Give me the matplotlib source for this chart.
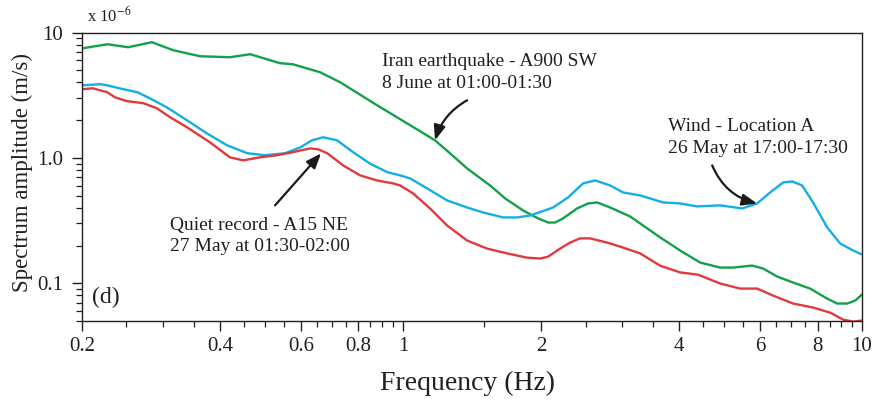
import matplotlib
matplotlib.use("Agg")
import matplotlib.pyplot as plt
from matplotlib.ticker import FixedLocator, FixedFormatter, LogLocator, NullFormatter
import numpy as np

# ---- data (frequency in Hz, amplitude in 1e-6 m/s) ----
iran_f = [0.201, 0.227, 0.252, 0.284, 0.316, 0.361, 0.420, 0.465, 0.540, 0.576, 0.660, 0.730,
          0.878, 1.021, 1.175, 1.267, 1.380, 1.548, 1.670, 1.827, 1.970, 2.072, 2.145, 2.233,
          2.395, 2.532, 2.649, 2.827, 3.126, 3.634, 4.017, 4.440, 4.909, 5.240, 5.764, 6.091,
          6.535, 7.079, 7.709, 8.395, 8.830, 9.283, 9.663, 10.0]
iran_a = [7.49, 8.06, 7.63, 8.37, 7.22, 6.47, 6.35, 6.71, 5.69, 5.58, 4.82, 4.01,
          2.63, 1.886, 1.38, 1.086, 0.824, 0.603, 0.475, 0.381, 0.329, 0.305, 0.305, 0.329,
          0.395, 0.433, 0.441, 0.402, 0.341, 0.232, 0.1825, 0.1463, 0.1334, 0.1334, 0.1384, 0.131,
          0.1131, 0.1013, 0.0907, 0.0755, 0.0689, 0.0689, 0.0728, 0.0812]

wind_f = [0.201, 0.219, 0.227, 0.246, 0.264, 0.284, 0.306, 0.339, 0.374, 0.414, 0.458, 0.501,
          0.554, 0.597, 0.634, 0.670, 0.719, 0.779, 0.848, 0.924, 0.986, 1.037, 1.129, 1.248,
          1.380, 1.495, 1.653, 1.773, 1.893, 2.124, 2.290, 2.469, 2.622, 2.827, 3.017, 3.287,
          3.689, 4.017, 4.374, 4.909, 5.483, 5.910, 6.309, 6.734, 7.044, 7.406, 7.825, 8.397,
          8.963, 9.567, 10.0]
wind_a = [3.79, 3.87, 3.79, 3.53, 3.34, 2.93, 2.53, 1.99, 1.57, 1.26, 1.09, 1.05,
          1.09, 1.21, 1.38, 1.46, 1.38, 1.11, 0.90, 0.77, 0.725, 0.686, 0.571, 0.458,
          0.402, 0.367, 0.335, 0.335, 0.347, 0.402, 0.484, 0.626, 0.661, 0.603, 0.530, 0.502,
          0.441, 0.433, 0.410, 0.418, 0.395, 0.433, 0.530, 0.637, 0.649, 0.603, 0.441, 0.279,
          0.2075, 0.1825, 0.1695]

quiet_f = [0.201, 0.211, 0.227, 0.236, 0.251, 0.272, 0.291, 0.311, 0.339, 0.380, 0.420, 0.449,
           0.488, 0.532, 0.576, 0.628, 0.654, 0.684, 0.741, 0.807, 0.878, 0.952, 0.986, 1.052,
           1.146, 1.248, 1.380, 1.526, 1.687, 1.864, 1.990, 2.072, 2.200, 2.313, 2.432, 2.557,
           2.785, 2.972, 3.287, 3.634, 4.017, 4.396, 4.909, 5.428, 5.910, 6.405, 7.079, 7.825,
           8.525, 9.100, 9.567, 10.0]
quiet_a = [3.53, 3.59, 3.34, 3.04, 2.83, 2.73, 2.49, 2.11, 1.75, 1.33, 1.01, 0.955,
           1.01, 1.05, 1.11, 1.19, 1.17, 1.09, 0.871, 0.725, 0.661, 0.626, 0.603, 0.521,
           0.395, 0.289, 0.219, 0.189, 0.173, 0.160, 0.1575, 0.163, 0.189, 0.211, 0.228, 0.228,
           0.211, 0.196, 0.173, 0.138, 0.122, 0.117, 0.0995, 0.0907, 0.0907, 0.0797, 0.0689, 0.064,
           0.0583, 0.0513, 0.0494, 0.0504]

x_major = [0.2, 0.4, 0.6, 0.8, 1, 2, 4, 6, 8, 10]
x_labels = ["0.2", "0.4", "0.6", "0.8", "1", "2", "4", "6", "8", "10"]
x_minor = [0.25, 0.3, 0.35, 0.45, 0.5, 0.55, 0.65, 0.7, 0.75, 0.85, 0.9, 0.95,
           1.5, 2.5, 3, 3.5, 4.5, 5, 5.5, 6.5, 7, 7.5, 8.5, 9, 9.5]
y_major = [0.1, 1.0, 10.0]
y_labels = ["0.1", "1.0", "10"]

GREEN = "#13a04a"
BLUE = "#12aee6"
RED = "#e0393e"
TXT = "#231f20"

plt.rcParams["font.family"] = ["Liberation Serif", "DejaVu Serif"]
plt.rcParams["mathtext.fontset"] = "stix"

fig = plt.figure(figsize=(8.73, 4.04), dpi=100)
ax = fig.add_axes([82/873, 1-321/404, 780/873, 288.5/404])

ax.plot(iran_f, iran_a, color=GREEN, lw=1.7, solid_joinstyle="round")
ax.plot(wind_f, wind_a, color=BLUE, lw=1.7, solid_joinstyle="round")
ax.plot(quiet_f, quiet_a, color=RED, lw=1.7, solid_joinstyle="round")

ax.set_xscale("log")
ax.set_yscale("log")
ax.set_xlim(0.2, 10)
ax.set_ylim(0.05, 10)

ax.xaxis.set_major_locator(FixedLocator(x_major))
ax.xaxis.set_major_formatter(FixedFormatter(x_labels))
ax.xaxis.set_minor_locator(FixedLocator(x_minor))
ax.xaxis.set_minor_formatter(NullFormatter())
ax.yaxis.set_major_locator(FixedLocator(y_major))
ax.yaxis.set_major_formatter(FixedFormatter(y_labels))
ax.yaxis.set_minor_locator(LogLocator(base=10, subs=np.arange(2, 10)))
ax.yaxis.set_minor_formatter(NullFormatter())

ax.tick_params(axis="both", which="major", direction="out", length=7.5, width=1.0,
               labelsize=15, colors=TXT, top=False, right=False)
ax.tick_params(axis="both", which="minor", direction="out", length=4, width=0.9,
               colors=TXT, top=False, right=False)
ax.tick_params(axis="x", which="major", pad=4)
ax.tick_params(axis="y", which="major", pad=6)
for s in ax.spines.values():
    s.set_color(TXT)
    s.set_linewidth(1.0)

fs = 14
ls = 1.35
ax.text(0.3846, 0.862, "Iran earthquake - A900 SW\n8 June at 01:00-01:30", transform=ax.transAxes,
        ha="left", va="center", fontsize=fs, color=TXT, linespacing=ls)
ax.text(0.7513, 0.636, "Wind - Location A\n26 May at 17:00-17:30", transform=ax.transAxes,
        ha="left", va="center", fontsize=fs, color=TXT, linespacing=ls)
ax.text(0.1128, 0.295, "Quiet record - A15 NE\n27 May at 01:30-02:00", transform=ax.transAxes,
        ha="left", va="center", fontsize=fs, color=TXT, linespacing=ls)
ax.text(0.0128, 0.08, "(d)", transform=ax.transAxes, ha="left", va="center", fontsize=17, color=TXT)

arrow = dict(arrowstyle="-|>,head_length=0.9,head_width=0.35", color="#1a1a1a", lw=1.6,
             shrinkA=0, shrinkB=0)
ax.annotate("", xy=(1.175, 1.38), xytext=(1.38, 2.88),
            arrowprops=dict(arrow, connectionstyle="arc3,rad=0.2"))
ax.annotate("", xy=(5.91, 0.433), xytext=(4.717, 0.871),
            arrowprops=dict(arrow, connectionstyle="arc3,rad=0.25"))
ax.annotate("", xy=(0.6633, 1.086), xytext=(0.5266, 0.418),
            arrowprops=dict(arrow, connectionstyle="arc3,rad=0"))

fig.text(87/873, 1-22/404, r"x 10$^{-6}$", fontsize=12, color=TXT, ha="left", va="baseline")
fig.text(22/873, 1-172/404, "Spectrum amplitude (m/s)", rotation=90, fontsize=16.5,
         color=TXT, ha="center", va="center")
fig.text(468/873, 1-383/404, "Frequency (Hz)", fontsize=20, color=TXT, ha="center", va="center")

fig.savefig("out.png", dpi=100)
